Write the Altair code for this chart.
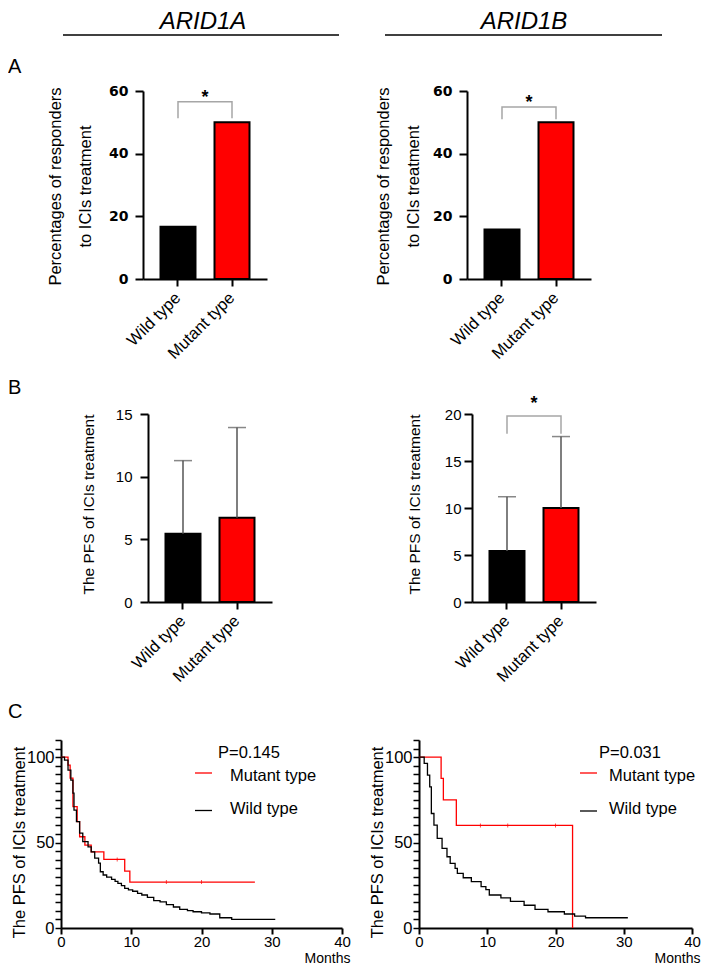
import altair as alt
import pandas as pd

groups = ["Wild type", "Mutant type"]
color_domain = ["Mutant type", "Wild type"]
color_range = ["#ff0000", "#000000"]

# Panel A: percentages of responders
resp_arid1a = [16.7, 50.0]
resp_arid1b = [15.8, 50.0]
# Panel B: PFS mean and upper error
pfs_mean_arid1a = [5.45, 6.72]
pfs_upper_arid1a = [11.28, 13.92]
pfs_mean_arid1b = [5.43, 10.0]
pfs_upper_arid1b = [11.2, 17.6]

# Panel C: Kaplan-Meier curves (months, % progression-free)
km_a_mut_t = [0, 1.0, 1.3, 1.7, 2.3, 2.65, 3.4, 4.3, 6.1, 9.07, 9.8, 27.6]
km_a_mut_s = [100, 95.3, 87.7, 71.0, 62.2, 53.4, 48.5, 44.6, 40.1, 33.3, 26.9, 26.9]
km_a_wild_t = [0, 0.5, 1.0, 1.4, 1.7, 1.85, 2.2, 2.65, 3.1, 3.85, 4.3, 4.8, 5.35, 5.6, 6.0,
               6.5, 7.2, 7.7, 8.1, 8.6, 9.07, 9.6, 10.2, 10.9, 11.5, 12.3, 13.2, 14.1, 15.0,
               16.0, 16.9, 18.0, 18.8, 20.0, 21.2, 22.6, 24.3, 30.5]
km_a_wild_s = [100, 98.2, 92.4, 86.5, 78.9, 69.0, 62.2, 55.5, 50.5, 47.5, 44.6, 40.9, 38.0, 32.9, 31.0,
               29.8, 28.4, 27.3, 26.1, 24.8, 23.2, 22.3, 21.5, 20.3, 19.3, 17.9, 16.0, 15.3, 13.7,
               12.3, 10.9, 10.2, 9.5, 8.9, 8.2, 6.0, 5.1, 5.1]
km_a_mut_censor_t = [8.0, 15.0, 20.0]
km_a_mut_censor_s = [40.1, 26.9, 26.9]

km_b_mut_t = [0, 3.24, 3.57, 5.47, 22.5]
km_b_mut_s = [100, 87.5, 75.0, 60.0, 0]
km_b_wild_t = [0, 0.76, 1.24, 1.57, 1.81, 2.19, 2.67, 3.38, 4.1, 4.57, 5.29, 5.62, 6.48, 7.67,
               9.1, 9.8, 10.3, 12.0, 13.4, 15.4, 17.0, 18.9, 21.3, 22.8, 24.4, 30.6]
km_b_wild_s = [100, 96.3, 89.5, 82.6, 67.0, 60.2, 52.4, 46.6, 41.7, 37.8, 34.9, 32.0, 29.4, 27.1,
               24.2, 22.5, 19.3, 17.6, 15.6, 13.3, 10.9, 9.5, 8.2, 7.0, 6.0, 6.0]
km_b_mut_censor_t = [9.0, 13.0, 20.0]
km_b_mut_censor_s = [60.0, 60.0, 60.0]

one = pd.DataFrame({"k": [0]})
FONT = "Liberation Sans"


def color_enc():
    return alt.Color("group:N", scale=alt.Scale(domain=color_domain, range=color_range), legend=None)


def txt(s, x, y, size, align="left", weight="normal", style="normal"):
    return alt.Chart(one).mark_text(text=s, fontSize=size, align=align, baseline="middle",
                                    fontWeight=weight, fontStyle=style, color="black",
                                    font=FONT).encode(x=alt.value(x), y=alt.value(y))


def hline(x1, x2, y, color="black", w=1.5):
    return alt.Chart(one).mark_rule(color=color, strokeWidth=w).encode(
        x=alt.value(x1), x2=alt.value(x2), y=alt.value(y))


def anchor(x, y1, y2):
    # invisible rule that fixes the layout extents of a row
    return alt.Chart(one).mark_rule(opacity=0, strokeWidth=0).encode(
        x=alt.value(x), y=alt.value(y1), y2=alt.value(y2))


def spacer(w, h):
    return alt.Chart(one).mark_point(opacity=0, size=1).encode(
        x=alt.value(1), y=alt.value(1)).properties(width=w, height=h)


def bar_panel(values, ymax, yvals, yaxis_kw, upper=None, bracket=None, star_dy=1, extras=()):
    xaxis = alt.Axis(title=None, labelAngle=315, labelAlign="right", labelBaseline="middle",
                     labelFont=FONT, labelFontSize=16.5, labelPadding=9, tickSize=7,
                     tickWidth=2, domainWidth=2)
    xenc = alt.X("group:N", sort=groups,
                 scale=alt.Scale(domain=groups, paddingInner=0.352, paddingOuter=0.324),
                 axis=xaxis)
    yenc = alt.Y("value:Q", stack=None, scale=alt.Scale(domain=[0, ymax], nice=False),
                 axis=alt.Axis(values=yvals, tickWidth=2, domainWidth=2, grid=False,
                               titleAngle=270, titleAlign="center", titleBaseline="middle",
                               titleFont=FONT, titleFontWeight="normal", **yaxis_kw))
    layers = []
    df = pd.DataFrame({"group": groups, "value": values})
    layers.append(alt.Chart(df).mark_bar(stroke="black", strokeWidth=2).encode(
        x=xenc, y=yenc, color=color_enc()))
    if upper is not None:
        edf = pd.DataFrame({"group": groups, "value": values, "upper": upper})
        layers.append(alt.Chart(edf).mark_rule(color="#555555", strokeWidth=1.5).encode(
            x=xenc, y=yenc, y2="upper:Q"))
        tdf = pd.DataFrame({"group": groups, "value": upper})
        layers.append(alt.Chart(tdf).mark_tick(color="#555555", thickness=1.5, size=18).encode(
            x=xenc, y=yenc))
    if bracket is not None:
        lo, hi = bracket
        bdf = pd.DataFrame({"group": [groups[0], groups[0], groups[1], groups[1]],
                            "value": [lo, hi, hi, lo], "ord": [0, 1, 2, 3]})
        layers.append(alt.Chart(bdf).mark_line(color="#a6a6a6", strokeWidth=1.5).encode(
            x=xenc, y=yenc, order="ord:Q"))
        sdf = pd.DataFrame({"group": [groups[0]], "value": [hi]})
        layers.append(alt.Chart(sdf).mark_text(text="*", fontSize=18, fontWeight="bold",
                                               baseline="alphabetic", dx=27, dy=star_dy,
                                               color="black", font=FONT).encode(x=xenc, y=yenc))
    layers.extend(extras)
    return alt.layer(*layers).properties(width=124, height=188)


def km_panel(mut_t, mut_s, wild_t, wild_s, cen_t, cen_s, legend_layers, title_x, width, months_x):
    kdf = pd.concat([
        pd.DataFrame({"t": mut_t, "s": mut_s, "group": "Mutant type"}),
        pd.DataFrame({"t": wild_t, "s": wild_s, "group": "Wild type"}),
    ])
    xenc = alt.X("t:Q", scale=alt.Scale(domain=[0, 40], nice=False),
                 axis=alt.Axis(values=[0, 10, 20, 30, 40], title="Months", titleX=months_x,
                               titleY=30, titleAlign="right", titleBaseline="middle",
                               titleFontSize=14, titleFontWeight="normal", titleFont=FONT,
                               labelFont=FONT, labelFontSize=15, labelPadding=0, tickSize=6,
                               tickWidth=2, domainWidth=2, labelFlush=False, grid=False))
    yenc = alt.Y("s:Q", scale=alt.Scale(domain=[0, 110], nice=False),
                 axis=alt.Axis(values=list(range(0, 111, 5)),
                               labelExpr="datum.value % 50 === 0 ? datum.label : ''",
                               labelOverlap=False, title="The PFS of ICIs treatment",
                               titleX=title_x, titleY=102, titleAngle=270, titleAlign="center",
                               titleBaseline="middle", titleFontSize=16.5, titleFontWeight="normal",
                               titleFont=FONT, labelFont=FONT, labelFontSize=16.5, labelPadding=1,
                               tickSize=6, tickWidth=1.5, domainWidth=2, grid=False))
    lines = alt.Chart(kdf).mark_line(interpolate="step-after", strokeWidth=1.3).encode(
        x=xenc, y=yenc, color=color_enc())
    cdf = pd.DataFrame({"t": cen_t, "s": cen_s})
    cens = alt.Chart(cdf).mark_tick(orient="vertical", size=4, thickness=1, color="#ff0000").encode(
        x=xenc, y=yenc)
    return alt.layer(lines, cens, *legend_layers).properties(width=width, height=188)


a_y_kw = dict(labelFont="DejaVu Sans", labelFontWeight="bold", labelFontSize=14, labelPadding=7,
              tickSize=8, title=["Percentages of responders", "to ICIs treatment"],
              titleFontSize=16.5, titleLineHeight=30, titleY=95)

A_left = bar_panel(resp_arid1a, 60, [0, 20, 40, 60], dict(a_y_kw, titleX=-88),
                   bracket=(51.3, 56.6),
                   extras=[anchor(-135, -83, 285),
                           txt("ARID1A", 60, -69, 24, align="center", style="italic"),
                           hline(-80, 196, -56), txt("A", -135, -24, 20)])
A_right = bar_panel(resp_arid1b, 60, [0, 20, 40, 60], dict(a_y_kw, titleX=-84),
                    bracket=(51.0, 54.9),
                    extras=[txt("ARID1B", 57, -69, 24, align="center", style="italic"),
                            hline(-82, 195, -56)])

b_y_kw = dict(labelFont=FONT, labelFontSize=15, tickSize=8, title="The PFS of ICIs treatment",
              titleFontSize=15.5, titleY=90)
B_left = bar_panel(pfs_mean_arid1a, 15, [0, 5, 10, 15], dict(b_y_kw, titleX=-60, labelPadding=8),
                   upper=pfs_upper_arid1a,
                   extras=[anchor(0, -38, 285), txt("B", -140, -26, 20)])
B_right = bar_panel(pfs_mean_arid1b, 20, [0, 5, 10, 15, 20], dict(b_y_kw, titleX=-58, labelPadding=3),
                    upper=pfs_upper_arid1b, bracket=(17.9, 19.8), star_dy=-7)

C_left = km_panel(km_a_mut_t, km_a_mut_s, km_a_wild_t, km_a_wild_s,
                  km_a_mut_censor_t, km_a_mut_censor_s,
                  [anchor(0, -41, 188),
                   txt("P=0.145", 157, 12.5, 16.5),
                   hline(134, 151, 33, "#ff0000", 1.3), txt("Mutant type", 169, 36, 16.5),
                   hline(134, 151, 70.5, "black", 1.3), txt("Wild type", 169, 69, 16.5),
                   txt("C", -53, -28, 20)], -42, 281, 289)
C_right = km_panel(km_b_mut_t, km_b_mut_s, km_b_wild_t, km_b_wild_s,
                   km_b_mut_censor_t, km_b_mut_censor_s,
                   [txt("P=0.031", 180, 12.5, 16.5),
                    hline(161, 178, 33, "#ff0000", 1.3), txt("Mutant type", 190, 36, 16.5),
                    hline(161, 178, 71, "black", 1.3), txt("Wild type", 190, 69, 16.5)],
                   -41.5, 273, 281)

row_a = alt.hconcat(spacer(82, 188), A_left, spacer(200, 188), A_right, spacing=0, bounds="flush")
row_b = alt.hconcat(spacer(87, 188), B_left, spacer(200, 188), B_right, spacing=0, bounds="flush")
row_c = alt.hconcat(C_left, spacer(77, 188), C_right, spacing=0, bounds="flush")

chart = alt.vconcat(row_a, row_b, row_c, spacing=0).properties(padding=0).configure(
    font=FONT).configure_view(stroke=None).configure_axis(
    grid=False, domainColor="black", tickColor="black", labelColor="black", titleColor="black")

chart.save("out.html", embed_options={"renderer": "svg", "actions": False})
